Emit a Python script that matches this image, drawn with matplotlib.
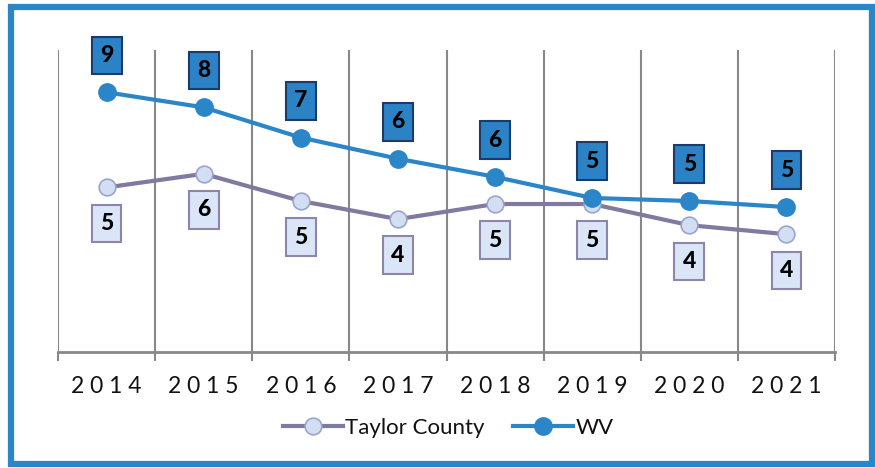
import matplotlib
matplotlib.use('Agg')
import matplotlib.pyplot as plt
from matplotlib.patches import Rectangle

# values (labels show them rounded)
years   = ['2014', '2015', '2016', '2017', '2018', '2019', '2020', '2021']
taylor  = [5.45, 5.9, 5.0, 4.4, 4.9, 4.9, 4.2, 3.9]
wv      = [8.6, 8.1, 7.1, 6.4, 5.8, 5.1, 5.0, 4.8]

WV_BLUE   = '#2a86c8'
TAYLOR_LN = '#8079a0'

plt.rcParams['font.family'] = ['Lato', 'DejaVu Sans']

fig = plt.figure(figsize=(8.75, 4.68), dpi=100)
ax = fig.add_axes([58/875, 1-352/468, (835-58)/875, (352-50)/468])

x = range(len(years))
ax.plot(x, taylor, color=TAYLOR_LN, lw=3, marker='o', ms=12,
        mfc='#d3def3', mec='#9aa5cf', mew=1.2, label='Taylor County', zorder=3)
ax.plot(x, wv, color=WV_BLUE, lw=3, marker='o', ms=12.5,
        mfc=WV_BLUE, mec=WV_BLUE, label='WV', zorder=4)

for i, v in enumerate(wv):
    ax.annotate(f'{v:.0f}', (i, v), xytext=(0, 26.5), textcoords='offset points',
                ha='center', va='center', fontsize=16.5, fontweight='black',
                bbox=dict(boxstyle='square,pad=0.36', fc='#2b83c6', ec='#1c3a6e', lw=1.5))
for i, v in enumerate(taylor):
    ax.annotate(f'{v:.0f}', (i, v), xytext=(0, -26), textcoords='offset points',
                ha='center', va='center', fontsize=16.5, fontweight='black',
                bbox=dict(boxstyle='square,pad=0.36', fc='#dbe5f8', ec='#8c86aa', lw=1.5))

ax.set_xlim(-0.5, len(years) - 0.5)
ax.set_ylim(0, 10)
ax.set_yticks([])
ax.set_xticks(list(x))
ax.set_xticklabels([' '.join(y) for y in years], fontsize=16.5, color='#111111')
ax.set_xticks([i - 0.5 for i in range(len(years) + 1)], minor=True)
ax.tick_params(axis='x', which='major', length=0, pad=17)
ax.tick_params(axis='x', which='minor', length=6.5, width=1.5, color='#888888')
ax.grid(True, which='minor', axis='x', color='#888888', lw=1.5)
for s in ['left', 'right', 'top']:
    ax.spines[s].set_visible(False)
ax.spines['bottom'].set_color('#888888')
ax.spines['bottom'].set_linewidth(2)

leg = fig.legend(loc='center', bbox_to_anchor=(0.512, 1-428/468), ncol=2, frameon=False,
                 fontsize=16, handlelength=2.7, handletextpad=0.1, columnspacing=1.3)
for t in leg.get_texts():
    t.set_color('#111111')

fig.patches.append(Rectangle((11/875, 4/468), 861/875, 457/468, transform=fig.transFigure,
                             fill=False, ec=WV_BLUE, lw=4.5))

fig.savefig('out.png', dpi=100)
